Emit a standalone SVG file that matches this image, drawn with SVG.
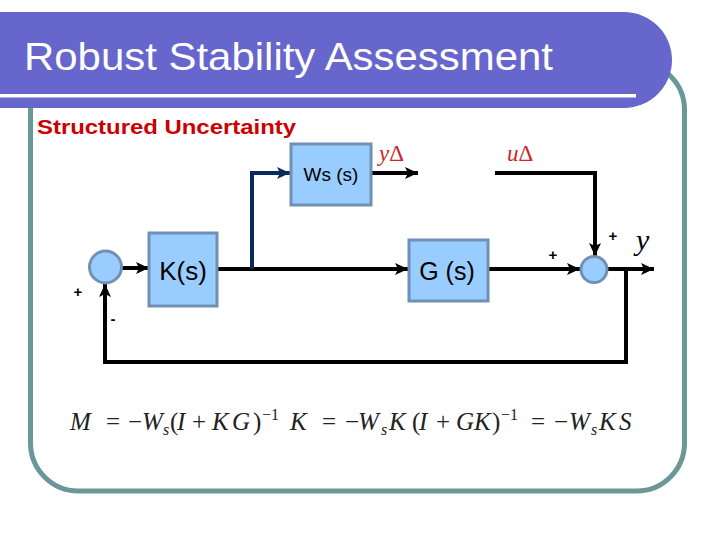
<svg xmlns="http://www.w3.org/2000/svg" width="720" height="540" viewBox="0 0 720 540">
<style>
.blk{fill:#99CCFF;stroke:#7090B4;stroke-width:3}
.sum{fill:#99CCFF;stroke:#7090B4;stroke-width:3}
.w{fill:none;stroke:#000;stroke-width:4}
.nv{fill:none;stroke:#0B2A5C;stroke-width:4}
.lbl{font-family:"Liberation Sans",Arial,sans-serif;fill:#000}
.sgn{font-family:"Liberation Sans",Arial,sans-serif;font-size:15px;font-weight:bold;fill:#000}
.math{font-family:"Liberation Serif","Times New Roman",serif;fill:#222;font-size:25px}
.it{font-style:italic}
.sub{font-size:16px;font-style:italic}
.sup{font-size:16px}
.red{font-family:"Liberation Serif","Times New Roman",serif;fill:#C82828}
</style>
<defs>
<marker id="ab" markerUnits="userSpaceOnUse" markerWidth="14" markerHeight="14" refX="13" refY="7" orient="auto">
<path d="M0,1 L13,7 L0,13 L3,7 z" fill="#000"/>
</marker>
<marker id="an" markerUnits="userSpaceOnUse" markerWidth="14" markerHeight="14" refX="13" refY="7" orient="auto">
<path d="M0,1 L13,7 L0,13 L3,7 z" fill="#0B2A5C"/>
</marker>
</defs>
<rect width="720" height="540" fill="#fff"/>
<rect x="30.5" y="62" width="654" height="429" rx="48" ry="48" fill="none" stroke="#6A9898" stroke-width="5"/>
<path d="M0,12 H624 A48,48 0 0 1 672,60 A48,48 0 0 1 624,108 H0 z" fill="#6666CC"/>
<rect x="0" y="94" width="636" height="3.5" fill="#fff"/>
<text x="24" y="70" font-family="Liberation Sans,Arial,sans-serif" font-size="39" fill="#fff" textLength="529" lengthAdjust="spacingAndGlyphs">Robust Stability Assessment</text>
<text x="37" y="134" font-family="Liberation Sans,Arial,sans-serif" font-size="21" font-weight="bold" fill="#CC0000" textLength="259" lengthAdjust="spacingAndGlyphs">Structured Uncertainty</text>

<g id="connectors">
<path class="w" d="M121,268 H149" marker-end="url(#ab)"/>
<path class="w" d="M217,269 H408" marker-end="url(#ab)"/>
<path class="nv" d="M252,269 V173 H290" marker-end="url(#an)"/>
<path class="w" d="M371,173 H418" marker-end="url(#ab)"/>
<path class="w" d="M495,173 H595 V256" marker-end="url(#ab)"/>
<path class="w" d="M488,269 H580" marker-end="url(#ab)"/>
<path class="w" d="M607,269 H654" marker-end="url(#ab)"/>
<path class="w" d="M626,269 V362 H105 V284" marker-end="url(#ab)"/>
</g>

<g id="sum1"><circle class="sum" cx="105.5" cy="267" r="16"/></g>
<g id="K"><rect class="blk" x="149" y="233" width="68" height="73"/>
<text class="lbl" x="183" y="280" font-size="26" text-anchor="middle">K(s)</text></g>
<g id="Ws"><rect class="blk" x="291" y="144" width="80" height="61"/>
<text class="lbl" x="331" y="181" font-size="19" text-anchor="middle">Ws (s)</text></g>
<g id="G"><rect class="blk" x="409" y="240" width="79" height="61"/>
<text class="lbl" x="447" y="280" font-size="25" text-anchor="middle">G (s)</text></g>
<g id="sum2"><circle class="sum" cx="594" cy="269.5" r="13"/></g>

<text class="sgn" x="78" y="297" text-anchor="middle">+</text>
<text class="sgn" x="113" y="324" text-anchor="middle">-</text>
<text class="sgn" x="553" y="260" text-anchor="middle">+</text>
<text class="sgn" x="613" y="241" text-anchor="middle">+</text>

<text class="red" x="379" y="161" font-size="23"><tspan font-style="italic">y</tspan><tspan>Δ</tspan></text>
<text class="red" x="507" y="161" font-size="23"><tspan font-style="italic">u</tspan><tspan>Δ</tspan></text>
<text x="636" y="250" font-family="Liberation Serif,serif" font-size="30" font-style="italic" fill="#000">y</text>

<text class="math" y="430"><tspan class="it" x="70">M</tspan><tspan x="106">=</tspan><tspan x="128">−</tspan><tspan class="it" x="142">W</tspan><tspan class="sub" x="163" dy="5">s</tspan><tspan x="170" dy="-5">(</tspan><tspan class="it" x="177">I</tspan><tspan x="192">+</tspan><tspan class="it" x="212">K</tspan><tspan class="it" x="232">G</tspan><tspan x="253">)</tspan><tspan class="sup" x="262" dy="-10">−1</tspan><tspan class="it" x="290" dy="10">K</tspan><tspan x="322">=</tspan><tspan x="345">−</tspan><tspan class="it" x="358">W</tspan><tspan class="sub" x="381" dy="5">s</tspan><tspan class="it" x="389" dy="-5">K</tspan><tspan x="412">(</tspan><tspan class="it" x="419">I</tspan><tspan x="436">+</tspan><tspan class="it" x="456">G</tspan><tspan class="it" x="474">K</tspan><tspan x="492">)</tspan><tspan class="sup" x="501" dy="-10">−1</tspan><tspan x="531" dy="10">=</tspan><tspan x="554">−</tspan><tspan class="it" x="569">W</tspan><tspan class="sub" x="591" dy="5">s</tspan><tspan class="it" x="599" dy="-5">K</tspan><tspan class="it" x="619">S</tspan></text>
</svg>
